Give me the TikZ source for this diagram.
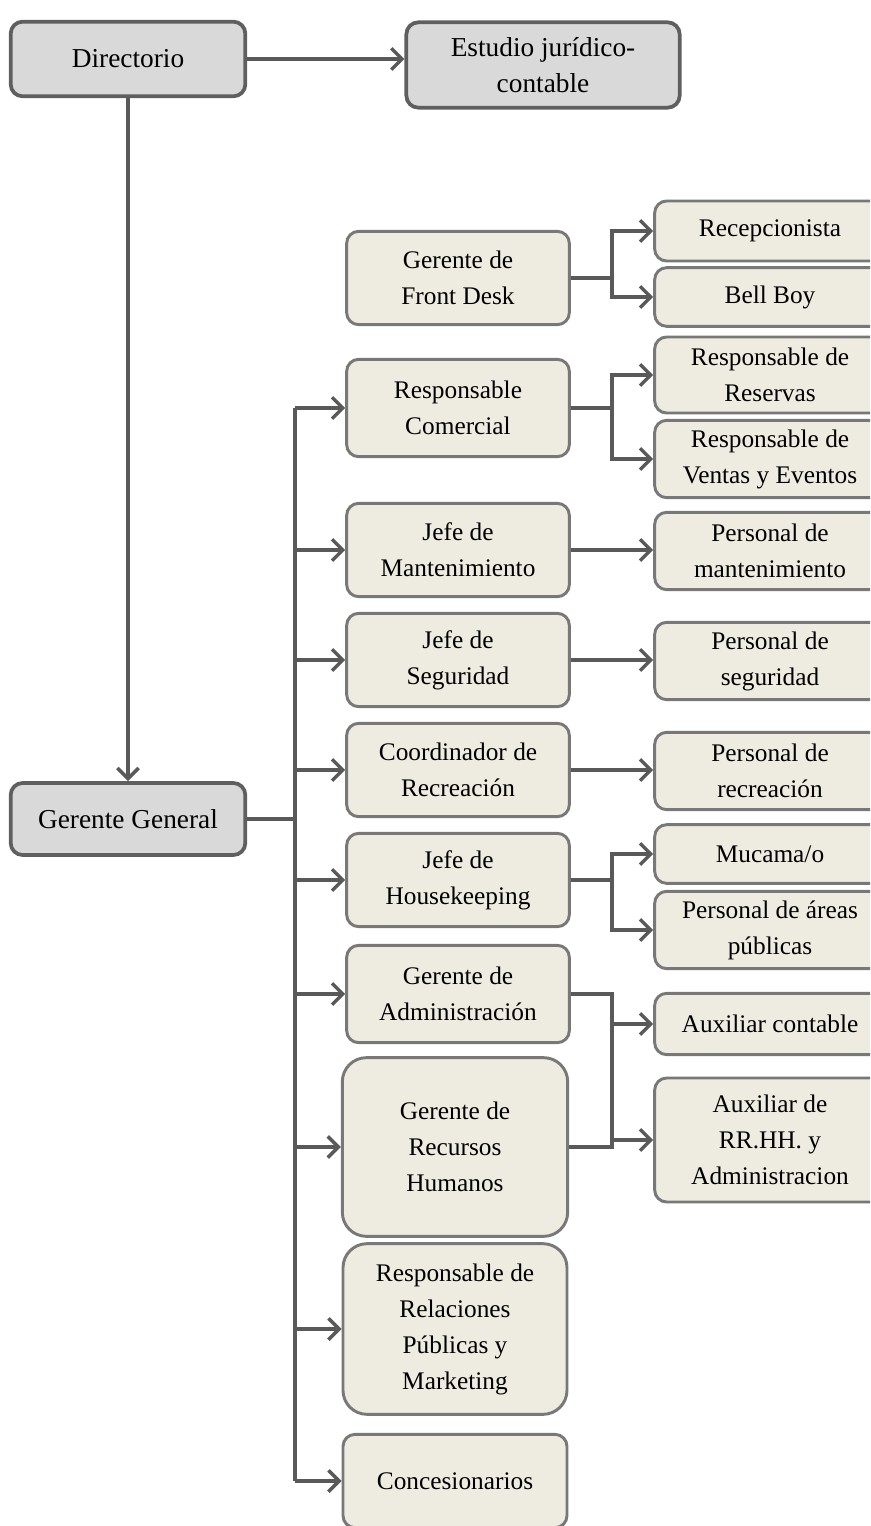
\documentclass[tikz,border=0pt]{standalone}
\usepackage{fontspec}
\setmainfont{Liberation Serif}
\usepackage{tikz}
\usetikzlibrary{arrows.meta}

\definecolor{topfill}{HTML}{D9D9D9}
\definecolor{unitfill}{HTML}{EEECE1}
\definecolor{topline}{HTML}{5F5F5F}
\definecolor{unitline}{HTML}{787878}
\definecolor{linkcol}{HTML}{595959}

\tikzset{
  box/.style={align=center,inner sep=0pt,rounded corners=9pt,
    font=\fontsize{19}{27}\selectfont},
  topbox/.style={box,draw=topline,fill=topfill,line width=2.8pt,
    font=\fontsize{20.5}{27.5}\selectfont},
  unitbox/.style={box,draw=unitline,fill=unitfill,line width=2.2pt},
  midbox/.style={unitbox,minimum width=167pt,minimum height=70pt},
  staffbox/.style={unitbox,minimum width=173pt},
  link/.style={draw=linkcol,line width=2.6pt},
  arr/.style={link,-{Straight Barb[length=8pt,width=16pt,line width=2.6pt]}}
}

\begin{document}
\begin{tikzpicture}[x=0.75pt,y=-0.75pt]
\newcommand{\trunkx}{295}
\newcommand{\forkx}{612}
\useasboundingbox (0,0) rectangle (870,1526);
\clip (0,0) rectangle (870,1526);

\node[topbox,minimum width=176pt,minimum height=56pt] (dir) at (128,59) {Directorio};
\node[topbox,minimum width=205pt,minimum height=64pt] (est) at (543,65) {Estudio jurídico-\\contable};
\node[topbox,minimum width=176pt,minimum height=54pt] (gg) at (128,819) {Gerente General};

\node[midbox] (fd) at (458,278) {Gerente de\\Front Desk};
\node[midbox,minimum height=73pt] (com) at (458,408) {Responsable\\Comercial};
\node[midbox] (man) at (458,550) {Jefe de\\Mantenimiento};
\node[midbox] (seg) at (458,660) {Jefe de\\Seguridad};
\node[midbox] (rec) at (458,770) {Coordinador de\\Recreación};
\node[midbox] (hk) at (458,880) {Jefe de\\Housekeeping};
\node[midbox,minimum height=73pt] (adm) at (458,994) {Gerente de\\Administración};
\node[midbox,minimum width=169pt,minimum height=134pt,rounded corners=18pt] (rh) at (455,1147) {Gerente de\\Recursos\\Humanos};
\node[midbox,minimum width=168pt,minimum height=128pt,rounded corners=18pt] (rp) at (455,1329) {Responsable de\\Relaciones\\Públicas y\\Marketing};
\node[midbox,minimum width=168pt] (con) at (455,1481) {Concesionarios};

\node[staffbox,minimum height=45pt] (recep) at (770,231) {Recepcionista};
\node[staffbox,minimum height=44pt] (bell) at (770,297) {Bell Boy};
\node[staffbox,minimum height=57pt] (resv) at (770,375) {Responsable de\\Reservas};
\node[staffbox,minimum height=58pt] (vent) at (770,459) {Responsable de\\Ventas y Eventos};
\node[staffbox,minimum height=58pt] (pman) at (770,551) {Personal de\\mantenimiento};
\node[staffbox,minimum height=58pt] (pseg) at (770,661) {Personal de\\seguridad};
\node[staffbox,minimum height=58pt] (prec) at (770,771) {Personal de\\recreación};
\node[staffbox,minimum height=44pt] (muc) at (770,854) {Mucama/o};
\node[staffbox,minimum height=58pt] (pap) at (770,930) {Personal de áreas\\públicas};
\node[staffbox,minimum height=46pt] (aux) at (770,1024) {Auxiliar contable};
\node[staffbox,minimum height=93pt] (auxrh) at (770,1140) {Auxiliar de\\RR.HH. y\\Administracion};

\coordinate (trunk) at (\trunkx,0);
\coordinate (fork) at (\forkx,0);

\draw[arr] (dir.east) -- (dir.east -| est.west);
\draw[arr] (dir.south) -- (gg.north);
\draw[link] (gg.east) -- (trunk |- gg.east);
\draw[link] (trunk |- com.west) -- (trunk |- con.west);
\foreach \n in {com,man,seg,rec,hk,adm,rh,rp,con}
  \draw[arr] (trunk |- \n.west) -- (\n.west);

\draw[arr] (fd.east) -- (fork |- fd.east) |- (recep.west);
\draw[arr] (fork |- fd.east) |- (bell.west);
\draw[arr] (com.east) -- (fork |- com.east) |- (resv.west);
\draw[arr] (fork |- com.east) |- (vent.west);
\draw[arr] (man.east) -- (man.east -| pman.west);
\draw[arr] (seg.east) -- (seg.east -| pseg.west);
\draw[arr] (rec.east) -- (rec.east -| prec.west);
\draw[arr] (hk.east) -- (fork |- hk.east) |- (muc.west);
\draw[arr] (fork |- hk.east) |- (pap.west);
\draw[link] (adm.east) -- (fork |- adm.east) -- (fork |- rh.east) -- (rh.east);
\draw[arr] (fork |- aux.west) -- (aux.west);
\draw[arr] (fork |- auxrh.west) -- (auxrh.west);
\end{tikzpicture}
\end{document}
